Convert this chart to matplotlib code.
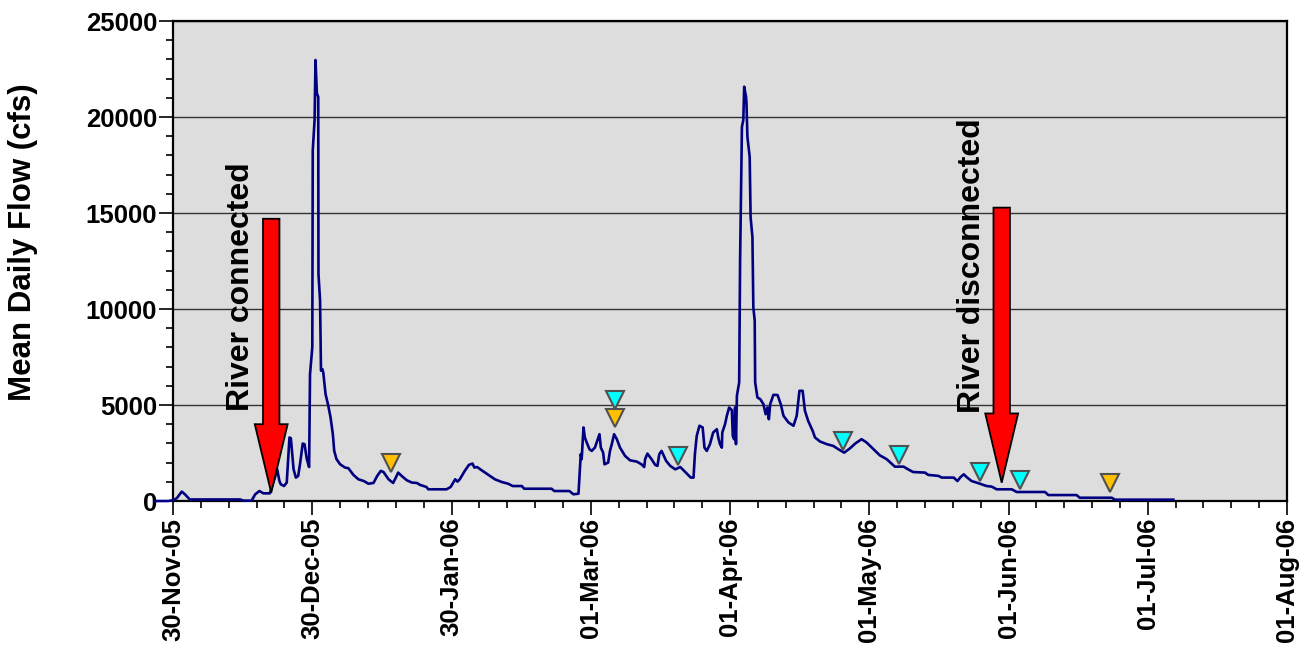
import matplotlib
matplotlib.use("Agg")
import matplotlib.pyplot as plt
from matplotlib.patches import FancyArrow
from matplotlib.ticker import FixedLocator, MultipleLocator

plt.rcParams['font.family'] = ['Liberation Sans', 'DejaVu Sans']
plt.rcParams['font.weight'] = 'bold'

# Mean daily flow, x = days after 30-Nov-2005
day = [-4, -1, 0, 0.8, 1.9, 2.6, 3.7, 4.1, 14.7, 15.4, 17.2, 18.0, 18.9, 19.8,
       21.2, 22.3, 22.8, 23.3, 23.6, 24.3, 24.9, 25.5, 25.8, 26.4, 26.9, 27.4,
       27.8, 28.4, 28.8, 29.3, 29.8, 30.0, 30.5, 30.6, 31.0, 31.2, 31.5, 31.8,
       31.85, 32.2, 32.4, 32.7, 32.9, 33.4, 34.0, 34.5, 35.0, 35.3, 35.8, 36.6,
       37.7, 38.4, 39.5, 40.6, 41.8, 42.8, 43.9, 44.7, 45.5, 46.1, 47.2, 48.2,
       48.8, 49.3, 50.1, 51.2, 52.3, 53.4, 54.1, 55.5, 55.9, 59.9, 60.8, 61.8,
       62.3, 62.8, 63.9, 64.8, 65.6, 66.0, 66.6, 67.6, 69.1, 70.5, 72.0, 73.4,
       74.4, 76.4, 76.9, 82.9, 83.5, 86.8, 87.7, 88.8, 89.3, 89.5, 89.9, 90.2,
       90.6, 91.2, 91.7, 92.4, 92.9, 93.4, 93.7, 94.2, 94.5, 95.3, 95.7, 96.1,
       96.6, 97.2, 97.9, 99.0, 100.1, 101.6, 102.6, 103.2, 103.4, 103.9, 104.8,
       105.6, 106.1, 106.5, 107.0, 108.0, 108.9, 110.0, 111.1, 112.1, 113.4,
       114.0, 114.3, 114.7, 115.3, 116.0, 116.4, 116.9, 117.6, 118.3, 119.1,
       119.5, 119.8, 120.2, 120.3, 120.9, 121.3, 121.8, 122.4, 122.6, 122.9,
       123.1, 123.3, 123.5, 124.0, 124.2, 124.6, 124.9, 125.1, 125.5, 125.6,
       125.8, 126.3, 126.5, 126.9, 127.1, 127.4, 127.5, 128.0, 128.6, 129.3,
       129.8, 130.2, 130.5, 130.8, 131.5, 132.4, 133.1, 133.7, 134.8, 135.9,
       136.6, 137.2, 137.9, 138.4, 139.1, 140.1, 140.6, 141.7, 143.2, 144.6,
       145.7, 147.0, 148.3, 149.4, 150.8, 151.9, 153.4, 154.8, 156.3, 158.1,
       160.0, 161.0, 162.1, 164.7, 165.4, 167.6, 168.4, 171.0, 171.8, 172.5,
       173.2, 173.8, 174.9, 176.0, 177.1, 178.2, 179.3, 180.4, 183.7, 184.8,
       191.0, 191.7, 197.9, 198.6, 205.6, 206.3, 219.1]
flow = [0, 0, 50, 140, 490, 350, 70, 80, 80, 20, 20, 350, 520, 400,
        400, 1220, 1650, 1040, 870, 780, 960, 3310, 3270, 1650, 1220, 1300,
        1910, 2990, 2960, 2180, 1770, 6610, 8000, 18270, 19840, 22970, 21230, 21050,
        11830, 10440, 6790, 6870, 6700, 5570, 4960, 4350, 3480, 2610, 2180, 1910,
        1740, 1710, 1360, 1130, 1040, 900, 940, 1300, 1570, 1510, 1130, 940,
        1220, 1480, 1300, 1080, 960, 940, 840, 730, 610, 610, 730, 1130,
        1010, 1130, 1570, 1880, 1950, 1740, 1770, 1600, 1360, 1130, 990, 900,
        780, 780, 640, 640, 520, 520, 350, 380, 2440, 2180, 3830, 3310,
        3050, 2700, 2610, 2780, 3130, 3480, 2780, 2520, 1910, 2000, 2610, 2960,
        3480, 3220, 2780, 2350, 2120, 2050, 1910, 1770, 2180, 2470, 2180,
        1880, 1830, 2440, 2610, 2090, 1830, 1650, 1770, 1530, 1220,
        1220, 2440, 3390, 3920, 3830, 2780, 2610, 2960, 3570, 3740,
        3220, 2960, 2780, 3570, 4000, 4440, 4870, 4730, 3390, 3220,
        4870, 2960, 5480, 6180, 12530, 19490, 19840, 21580, 21050, 20710,
        18970, 17920, 14790, 13750, 10090, 9400, 6180, 5390, 5310, 5050,
        4520, 4870, 4260, 5050, 5530, 5520, 5050, 4440, 4090, 3920,
        4440, 5740, 5740, 4700, 4180, 3650, 3310, 3100, 2960, 2870,
        2700, 2520, 2750, 2990, 3220, 3050, 2700, 2380, 2180, 1790,
        1790, 1650, 1510, 1480, 1360, 1310, 1220, 1220, 1040, 1250,
        1390, 1250, 1040, 960, 870, 780, 750, 610, 610, 470,
        470, 310, 310, 170, 170, 70, 70]

# Sampling events (triangles)
yellow_day = [47.7, 96.8, 205.2]
yellow_flow = [2000, 4320, 960]
cyan_day = [96.8, 110.5, 146.7, 159.0, 176.7, 185.5]
cyan_flow = [5260, 2350, 3130, 2400, 1530, 1100]

# Axis ticks
tick_days = [0, 30.5, 61, 91.5, 122, 152.5, 183, 213.5, 244]
tick_labels = ['30-Nov-05', '30-Dec-05', '30-Jan-06', '01-Mar-06', '01-Apr-06',
               '01-May-06', '01-Jun-06', '01-Jul-06', '01-Aug-06']
minor_days = [i * 6.1 for i in range(41)]
y_ticks = [0, 5000, 10000, 15000, 20000, 25000]

# Connection arrows
arrow_labels = ['River connected', 'River disconnected']
arrow_day = [21.5, 181.5]
arrow_top = [14700, 15280]
arrow_head_start = [4000, 4560]
arrow_tip = [430, 955]
label_day = [14.9, 174.9]
label_flow = [4700, 4610]

fig = plt.figure(figsize=(13.16, 6.51), dpi=100)
ax = fig.add_axes([0.1315, 0.2304, 0.8465, 0.7373])
ax.set_facecolor('#DDDDDD')

ax.plot(day, flow, color='#000080', lw=1.9, clip_on=False, zorder=3)

ax.plot(yellow_day, yellow_flow, ls='none', marker='v', ms=12.5,
        mfc='#FFC000', mec='#505050', mew=1.5, zorder=4)
ax.plot(cyan_day, cyan_flow, ls='none', marker='v', ms=12.5,
        mfc='#00FFFF', mec='#505050', mew=1.5, zorder=4)

for xd, top, hs, tip in zip(arrow_day, arrow_top, arrow_head_start, arrow_tip):
    ax.add_patch(FancyArrow(xd, top, 0, tip - top, width=3.6, head_width=7.2,
                            head_length=hs - tip, length_includes_head=True,
                            fc='#FF0000', ec='black', lw=1.3, zorder=5))

for txt, xd, yv in zip(arrow_labels, label_day, label_flow):
    ax.text(xd, yv, txt, rotation=90, ha='center', va='bottom',
            fontsize=23, fontweight='bold', color='black', zorder=6)

ax.set_xlim(0, 244)
ax.set_ylim(0, 25000)
ax.xaxis.set_major_locator(FixedLocator(tick_days))
ax.xaxis.set_minor_locator(FixedLocator(minor_days))
ax.set_xticklabels(tick_labels, rotation=90, fontsize=18.5, fontweight='bold')
ax.yaxis.set_major_locator(FixedLocator(y_ticks))
ax.yaxis.set_minor_locator(MultipleLocator(1000))
ax.set_yticklabels([str(v) for v in y_ticks], fontsize=18.5, fontweight='bold')

ax.tick_params(axis='both', which='major', length=10, width=1.2, direction='out', color='black')
ax.tick_params(axis='both', which='minor', length=5, width=1.2, direction='out', color='black')
ax.tick_params(axis='y', which='major', pad=1.5)
ax.tick_params(axis='x', which='major', pad=2)

ax.yaxis.grid(True, which='major', color='#333333', lw=1.0)
ax.set_axisbelow(True)
for s in ax.spines.values():
    s.set_linewidth(1.6)
    s.set_color('black')

ax.set_ylabel('Mean Daily Flow (cfs)', fontsize=22.5, fontweight='bold')
ax.yaxis.set_label_coords(-0.1212, 0.54)

fig.savefig('out.png', dpi=100)
